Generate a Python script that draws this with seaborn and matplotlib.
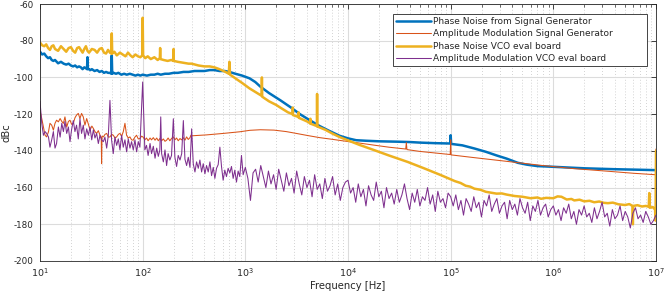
import numpy as np
import pandas as pd
import matplotlib
matplotlib.use("Agg")
import matplotlib.pyplot as plt
from matplotlib.ticker import LogLocator, NullFormatter, FixedLocator, LogFormatterSciNotation
import seaborn as sns

# ---------------- data ----------------
blue_f = [10, 10.5, 11, 11.5, 12, 12.5, 13, 13.5, 14,
          15, 16, 17, 18, 19, 20, 21, 22, 23, 24, 25, 26, 27, 28,
          28.7, 29, 29.3,
          30, 31, 32, 34, 36, 38, 40, 42, 44, 46, 48,
          49.5, 50, 50.5,
          52, 55, 58, 62, 66, 70, 75, 80, 85, 90, 95, 100,
          110, 120, 130, 140, 150, 165, 180, 200, 220, 250, 280, 320, 360, 400, 450, 500, 560, 630, 700, 800, 930,
          1100, 1250, 1400, 1700, 2200, 2800, 3400, 4300, 5300, 6500, 8300,
          10000, 12000, 15000, 20000, 30000, 40000, 50000, 70000,
          99000, 100000, 101000,
          130000, 170000, 220000, 280000, 350000, 450000, 550000, 700000,
          1100000, 2000000, 4000000, 7000000, 10000000]
blue_db = [-86, -87.5, -87, -88.5, -89.5, -89, -90.5, -91, -90.5,
           -92.3, -91.5, -92.5, -93, -92.5, -93.5, -94, -93.5, -94.5, -94, -94.5, -95.5, -94.5, -95,
           -95.5, -89, -95.5,
           -95.5, -96, -95.5, -96.5, -96, -97, -96.5, -97.5, -97, -97.5, -97.5,
           -98, -88, -98,
           -97.5, -98, -97.5, -98.5, -98, -98.5, -98, -98.5, -99, -98.5, -99, -98.5,
           -99, -98.5, -98.5, -98, -98.5, -98, -98, -97.5, -97.5, -97, -97, -96.5, -96.5, -96.5, -96, -96, -96.5, -96.5, -97, -98, -99,
           -100.5, -102.5, -105, -108.5, -112.5, -116.5, -120, -123.5, -126.5, -129, -131.8,
           -133.2, -134.2, -134.5, -134.8, -135, -135.2, -135.5, -135.8,
           -136, -131.5, -136.2,
           -137, -138.7, -140.5, -142.5, -144.2, -146.5, -147.5, -148.3,
           -148.8, -149.5, -150, -150.3, -150.5]

orange_f = [10, 10.4, 10.8, 11.2, 11.6, 12.1, 12.5, 13, 13.5, 14,
            14.5, 15.1, 15.7, 16.3, 16.9, 17.5, 18.2, 18.9, 19.6, 20.3,
            21.1, 21.9, 22.7, 23.6, 24.5, 25.4, 26.4, 27.4, 28.5, 29.6,
            30.7, 32, 33.1, 34.3, 35.6, 37, 38.4, 39.5, 39.8, 40.2,
            41.4, 43, 44.6, 46.3, 48, 50, 51.8, 53.7, 55.8, 58,
            60.1, 62.4, 64.7, 67.2, 69.7, 72.4, 75.1, 78, 80.9, 84,
            87.2, 90.6, 94, 97.6, 101, 105, 109, 113, 118, 122,
            127, 132, 137, 142, 147, 153, 159, 165, 171, 177,
            184, 191, 199, 206, 214, 222, 231, 240, 249, 258,
            268, 278, 289, 295, 300, 420, 610, 885, 1110, 1400,
            1900, 2500, 3000, 4000, 5300, 7000, 8800, 12000, 18000, 25000,
            36500, 37000, 37500, 50000, 81000, 99000, 100000, 101000, 170000, 350000,
            760000, 1600000, 3400000, 6000000, 9900000, 10000000]
orange_db = [-118, -122.4, -127, -131.5, -132.4, -129.6, -125, -126, -128.7, -125,
             -123.3, -124.2, -122.4, -124, -125, -121.5, -127, -124, -123.3, -125.5,
             -125, -122, -120.5, -119.6, -122.4, -119.6, -121.5, -126, -122.4, -125.5,
             -128.7, -126.5, -127.8, -129.5, -130.5, -129, -131.5, -133, -147, -132,
             -132.4, -131, -130.5, -132.5, -132.4, -131, -131.5, -133, -132.4, -131,
             -130.5, -132, -129.6, -125, -131.5, -133, -132.4, -134, -134.2, -132.5,
             -131.5, -133.5, -133.3, -132, -132.5, -134, -133, -134.5, -133, -134,
             -132.8, -134.2, -133, -134.5, -133.3, -134.5, -133.5, -134.8, -134.2, -133,
             -134.5, -133.3, -132.4, -134, -133, -134.5, -133.3, -134, -132.8, -134.2,
             -132.4, -133.8, -132.8, -131.5, -131.8, -131.3, -130.5, -129.6, -128.8, -128.5,
             -128.7, -129.5, -130.3, -131.6, -132.8, -133.7, -134.5, -135.5, -136.9, -138,
             -139, -135.5, -139.3, -140.3, -141.5, -142, -134, -142.2, -143.7, -145.7,
             -147.9, -149.7, -151.1, -152.2, -153, -139]

yellow_f = [10, 10.5, 11, 11.5, 12, 12.5, 13, 13.5, 14,
            15, 16, 17, 18, 19, 20, 21, 22, 23, 24, 25, 26, 27, 28, 29, 30,
            32, 34, 36, 38, 40, 42, 44, 46, 48,
            49.5, 50, 50.5,
            53, 56, 60, 64, 68, 72, 76, 80, 85, 90, 95,
            99, 100, 101,
            106, 112, 120, 130, 140,
            147, 148, 149,
            160, 175, 190,
            199, 200, 201,
            220, 250, 280, 300, 350, 400, 450, 500, 560, 640,
            690, 700, 710,
            800, 930, 1100, 1300,
            1440, 1450, 1460,
            1700, 2000, 2200, 2600,
            2890, 2900, 2910,
            3280, 3300, 3320,
            4000,
            4280, 4300, 4320,
            4980, 5000, 5020,
            6000, 7000, 8300, 10000, 13000, 18000, 25000, 38000, 55000, 81000,
            110000, 125000, 140000, 155000, 170000, 195000, 220000, 250000, 280000, 315000,
            350000, 420000, 500000, 600000, 700000, 760000, 850000, 1000000, 1100000, 1200000,
            1350000, 1500000, 1600000, 1800000, 2000000, 2250000, 2500000, 2800000, 3100000, 3400000,
            3800000, 4300000, 5000000, 5500000,
            5900000, 5950000, 6000000,
            6600000, 7300000, 8000000,
            8500000, 8600000, 8700000,
            9300000, 9800000, 9900000, 10000000]
yellow_db = [-81, -82.5, -83, -82, -84, -85, -83, -82.5, -84.5,
             -85.5, -83, -84.5, -86, -84, -83.5, -85.5, -86.5, -84, -83.5, -85, -86.5, -84.5, -83, -85.5, -86.5,
             -84.5, -85, -86.5, -84.5, -84, -86.5, -87, -85, -86.5,
             -87, -76, -87,
             -86, -88, -86.5, -87.5, -88.5, -86.5, -88, -89, -87.5, -88.5, -89,
             -88, -67.5, -88,
             -89.5, -88.5, -90, -89, -90.5,
             -89.5, -84, -90,
             -90.5, -91, -90.5,
             -91, -84.5, -91,
             -91.5, -92, -92.5, -92.5, -93.5, -94, -94, -94.5, -95.5, -97,
             -98, -91.5, -98.5,
             -100.5, -103, -106, -108.5,
             -110, -100, -110.5,
             -113, -115, -116.5, -119,
             -120, -116.4, -120.5,
             -121.5, -119, -122,
             -124,
             -125, -122.5, -125.2,
             -126.5, -109, -126.7,
             -128.5, -130.5, -132.5, -134.3, -136.8, -139.6, -142.5, -146, -149.5, -153.3,
             -156.5, -157.5, -159, -159.5, -160.6, -161.2, -162.3, -162.8, -163.3, -163.2,
             -163.8, -164.6, -165, -165.8, -165.4, -166.1, -165.6, -165.8, -164.8, -165,
             -166.5, -166.2, -167, -166.6, -167.5, -167.2, -168, -167.6, -168.3, -168.5,
             -168.2, -169.1, -169.5, -169,
             -170, -180, -170,
             -169.6, -170.3, -170,
             -170.5, -163, -171,
             -170.6, -172, -178, -140]

purple_f = [10, 10.4, 10.8, 11.2, 11.6, 12.1, 12.5, 13, 13.5, 14,
            14.5, 15.1, 15.7, 16.3, 16.9, 17.5, 18.2, 18.9, 19.6, 20.3,
            21.1, 21.9, 22.7, 23.6, 24.5, 25.4, 26.4, 27.4, 28.5, 29.6,
            30.7, 31.9, 33.1, 34.3, 35.6, 37, 38.4, 39.8, 41.4, 42.9,
            44.6, 46.3, 48, 49.8, 51.7, 53.7, 55.8, 57.9, 60.1, 62.4,
            64.7, 67.2, 69.8, 72.4, 75.2, 78, 81, 84.1, 87.3, 90.6,
            94, 100, 105, 109, 113, 118, 122, 127, 132, 137,
            142, 147, 150, 153, 159, 165, 171, 177, 184, 191,
            199, 206, 214, 222, 231, 240, 249, 258, 268, 278,
            289, 300, 311, 323, 335, 348, 361, 375, 389, 404,
            419, 435, 452, 469, 487, 505, 524, 544, 565, 586,
            608, 631, 655, 680, 706, 733, 761, 790, 820, 851,
            883, 917, 952,
            1.000e3, 1.059e3, 1.122e3, 1.189e3, 1.259e3, 1.334e3, 1.413e3, 1.496e3, 1.585e3, 1.679e3,
            1.778e3, 1.884e3, 1.995e3, 2.113e3, 2.239e3, 2.371e3, 2.512e3, 2.661e3, 2.818e3, 2.985e3,
            3.162e3, 3.350e3, 3.548e3, 3.758e3, 3.981e3, 4.217e3, 4.467e3, 4.732e3, 5.012e3, 5.309e3,
            5.623e3, 5.957e3, 6.310e3, 6.683e3, 7.079e3, 7.499e3, 7.943e3, 8.414e3, 8.913e3, 9.441e3,
            1.000e4, 1.059e4, 1.122e4, 1.189e4, 1.259e4, 1.334e4, 1.413e4, 1.496e4, 1.585e4, 1.679e4,
            1.778e4, 1.884e4, 1.995e4, 2.113e4, 2.239e4, 2.371e4, 2.512e4, 2.661e4, 2.818e4, 2.985e4,
            3.162e4, 3.350e4, 3.548e4, 3.758e4, 3.981e4, 4.217e4, 4.467e4, 4.732e4, 5.012e4, 5.309e4,
            5.623e4, 5.957e4, 6.310e4, 6.683e4, 7.079e4, 7.499e4, 7.943e4, 8.414e4, 8.913e4, 9.441e4,
            1.000e5, 1.059e5, 1.122e5, 1.189e5, 1.259e5, 1.334e5, 1.413e5, 1.496e5, 1.585e5, 1.679e5,
            1.778e5, 1.884e5, 1.995e5, 2.113e5, 2.239e5, 2.371e5, 2.512e5, 2.661e5, 2.818e5, 2.985e5,
            3.162e5, 3.350e5, 3.548e5, 3.758e5, 3.981e5, 4.217e5, 4.467e5, 4.732e5, 5.012e5, 5.309e5,
            5.623e5, 5.957e5, 6.310e5, 6.683e5, 7.079e5, 7.499e5, 7.943e5, 8.414e5, 8.913e5, 9.441e5,
            1.000e6, 1.059e6, 1.122e6, 1.189e6, 1.259e6, 1.334e6, 1.413e6, 1.496e6, 1.585e6, 1.679e6,
            1.778e6, 1.884e6, 1.995e6, 2.113e6, 2.239e6, 2.371e6, 2.512e6, 2.661e6, 2.818e6, 2.985e6,
            3.162e6, 3.350e6, 3.548e6, 3.758e6, 3.981e6, 4.217e6, 4.467e6, 4.732e6, 5.012e6, 5.309e6,
            5.623e6, 5.957e6, 6.310e6, 6.683e6, 7.079e6, 7.499e6, 7.943e6, 8.414e6, 8.913e6, 9.441e6,
            1.000e7]
purple_db = [-113, -125, -131.5, -129.5, -130.5, -132.5, -138, -134, -129.5, -138.5,
             -136, -127, -132.5, -125, -129.5, -124, -130.5, -127, -135, -128.5,
             -123.5, -129.5, -126, -133.5, -122.5, -130.5, -126, -133.5, -128, -131.5,
             -127, -134, -128.5, -133, -130.5, -136, -131.5, -134, -135, -132.5,
             -138.5, -131.5, -112.5, -134, -141.5, -132.5, -137, -133.5, -139.5, -131.5,
             -138, -134, -140.5, -133.5, -138.5, -135, -139.5, -134, -140.5, -135,
             -138, -102.5, -139.5, -137, -142.5, -136, -141.5, -137.5, -144, -138.5,
             -143, -139.5, -121.5, -141.5, -146, -139.5, -148, -141.5, -145, -142.5,
             -122.5, -143.5, -148.5, -142.5, -145, -141.5, -123.5, -144.5, -148, -143.5,
             -149, -128, -147, -151.5, -146, -149.5, -145, -151.5, -147, -152.5,
             -148, -151.5, -146, -153.5, -149, -155, -149.5, -147.5, -138, -148.5,
             -156, -150.5, -154, -149.5, -152, -148.5, -155, -150.5, -157, -151,
             -154, -142.5, -153,
             -149, -155, -167, -152, -150, -157, -148, -154, -160, -151,
             -158, -153, -161, -150, -156, -162, -152, -159, -155, -163,
             -151, -158, -164, -154, -160, -156, -165, -153, -161, -158,
             -166, -155, -162, -159, -154, -164, -158, -167, -160, -157,
             -156, -163, -160, -168, -158, -165, -161, -170, -159, -164,
             -167, -157, -165, -162, -171, -160, -166, -163, -169, -161,
             -168, -164, -158, -166, -172, -163, -168, -161, -170, -165,
             -167, -160, -169, -164, -173, -162, -168, -166, -171, -163,
             -165, -170, -164, -172, -167, -175, -166, -169, -173, -165,
             -171, -168, -176, -167, -170, -164, -173, -169, -166, -174,
             -170, -168, -177, -167, -172, -169, -175, -166, -171, -174,
             -168, -178, -170, -173, -167, -175, -171, -169, -176, -172,
             -170, -175, -172, -178, -171, -174, -169, -177, -173, -180,
             -172, -175, -170, -176, -174, -179, -171, -177, -173, -168,
             -176, -174, -181, -172, -177, -175, -170, -178, -173, -176,
             -182, -174, -171, -177, -175, -179, -173, -176, -180, -178,
             -175]

labels = ["Phase Noise from Signal Generator",
          "Amplitude Modulation Signal Generator",
          "Phase Noise VCO eval board",
          "Amplitude Modulation VCO eval board"]
colors = ["#0072BD", "#D95319", "#EDB120", "#7E2F8E"]
widths = [1.8, 0.75, 1.8, 0.75]
x_ticks = [1e1, 1e2, 1e3, 1e4, 1e5, 1e6, 1e7]
y_ticks = [-200, -180, -160, -140, -120, -100, -80, -60]

# ---------------- figure ----------------
sns.set_style("white")
plt.rcParams["font.family"] = ["DejaVu Sans"]
plt.rcParams["axes.unicode_minus"] = False

fig = plt.figure(figsize=(6.64, 2.94), dpi=100)
ax = fig.add_axes([40 / 664, 1 - 261 / 294, 616 / 664, 257 / 294])

series = [(blue_f, blue_db), (orange_f, orange_db), (yellow_f, yellow_db), (purple_f, purple_db)]
for (f, d), lab, col, lw in zip(series, labels, colors, widths):
    df = pd.DataFrame({"Frequency": f, "dBc": d})
    sns.lineplot(data=df, x="Frequency", y="dBc", ax=ax, color=col, linewidth=lw,
                 label=lab, estimator=None, sort=False)

ax.set_xscale("log")
ax.set_xlim(10, 1e7)
ax.set_ylim(-200, -60)
ax.set_yticks(y_ticks)
ax.xaxis.set_major_locator(FixedLocator(x_ticks))
ax.xaxis.set_major_formatter(LogFormatterSciNotation())
ax.xaxis.set_minor_locator(LogLocator(base=10, subs=np.arange(2, 10), numticks=100))
ax.xaxis.set_minor_formatter(NullFormatter())

ax.set_axisbelow(True)
ax.grid(which="major", color="#DCDCDC", linewidth=0.8, linestyle="-")
ax.grid(which="minor", axis="x", color="#C4C4C4", linewidth=0.6, linestyle=(0, (1, 2.5)))

ax.tick_params(which="both", direction="in", top=True, right=True,
               color="#262626", labelcolor="#262626")
ax.tick_params(axis="y", labelsize=6.3, pad=4.5)
ax.tick_params(axis="x", labelsize=6.8, pad=4)
ax.tick_params(which="major", length=3.5, width=0.6)
ax.tick_params(which="minor", length=2, width=0.5)
for s in ax.spines.values():
    s.set_color("#262626")
    s.set_linewidth(0.6)

ax.set_xlabel("Frequency [Hz]", fontsize=7.2, color="#262626", labelpad=1.5)
ax.set_ylabel("dBc", fontsize=7.2, color="#262626", labelpad=2)

leg = ax.legend(loc="upper left", bbox_to_anchor=(0.573, 0.754, 0.412, 0.206),
                mode="expand", borderaxespad=0,
                fontsize=6.5, frameon=True, fancybox=False, framealpha=1,
                edgecolor="#262626", handlelength=3.9, handletextpad=0.2,
                labelspacing=0.37, borderpad=0.3)
leg.get_frame().set_linewidth(0.6)

fig.savefig("out.png", dpi=100)
